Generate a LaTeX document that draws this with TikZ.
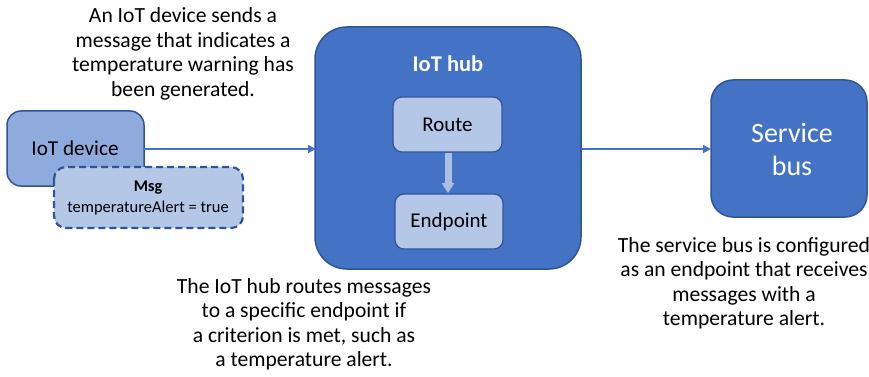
\documentclass[tikz,border=0pt]{standalone}
\usepackage{fontspec}
\setmainfont{Carlito}
\usetikzlibrary{arrows.meta}
\definecolor{hubblue}{HTML}{4472C4}
\definecolor{edgeblue}{HTML}{2F5597}
\definecolor{devblue}{HTML}{8FAADC}
\definecolor{lightblue}{HTML}{B4C7E7}
\definecolor{arrowlight}{HTML}{A9BFE3}
\tikzset{
  box/.style={draw=edgeblue, line width=1.5pt, rounded corners=#1},
  box/.default=12pt,
  conn/.style={draw=hubblue, line width=1.6pt, -{Triangle[length=8pt,width=8pt]}},
  note/.style={align=center, font=\fontsize{21.6}{24.5}\selectfont, text=black},
}
\begin{document}
\begin{tikzpicture}[x=1pt,y=-1pt]
\useasboundingbox (0,0) rectangle (869,377);
% IoT device
\draw[box=14pt, fill=devblue] (7,111) rectangle (144,186);
\node[font=\fontsize{21.2}{24}\selectfont] (devtxt) at (75,148) {IoT device};
% Msg
\draw[box=12pt, fill=lightblue, dash pattern=on 7pt off 4pt, line width=2.2pt] (54,167) rectangle (243,228);
\node[font=\fontsize{16.3}{18}\selectfont\bfseries] (msg) at (148,188) {Msg};
\node[font=\fontsize{16.5}{18}\selectfont] (msgtxt) at (148,208) {temperatureAlert = true};
% Hub
\draw[box=32pt, fill=hubblue] (315,27) rectangle (581,269);
\node[font=\fontsize{22.5}{24}\selectfont\bfseries, text=white] (hubtxt) at (448,64) {IoT hub};
% Route / Endpoint
\draw[box=9pt, fill=lightblue, line width=1.2pt] (393,97) rectangle (502,152);
\node[font=\fontsize{21}{24}\selectfont] (route) at (447.5,125) {Route};
\draw[box=9pt, fill=lightblue, line width=1.2pt] (395,194) rectangle (503,249);
\node[font=\fontsize{21}{24}\selectfont] (endp) at (449,222) {Endpoint};
% Service bus
\draw[box=22pt, fill=hubblue] (711,80) rectangle (867,217);
\node[font=\fontsize{28}{33}\selectfont, text=white, align=center] (sb) at (792,149) {Service\\bus};
% coordinates for connectors
\coordinate (devR) at (144,149);
\coordinate (hubL) at (316,149);
\coordinate (hubR) at (581,149);
\coordinate (sbL) at (711,149);
\coordinate (rB) at (448,153);
\coordinate (eT) at (448,193);
\draw[conn] (devR) -- (hubL);
\draw[conn] (hubR) -- (sbL);
% block arrow route -> endpoint
\draw[draw=arrowlight, line width=7pt, -{Triangle[length=10pt,width=12pt]}] (rB) -- (eT);
% notes
\node[note] (n1) at (183,54) {An IoT device sends a\\message that indicates a\\temperature warning has\\been generated.};
\node[note] (n2) at (304,324) {The IoT hub routes messages\\to a specific endpoint if\\a criterion is met, such as\\a temperature alert.};
\node[note] (n3) at (744,283) {The service bus is configured\\as an endpoint that receives\\messages with a\\temperature alert.};
\end{tikzpicture}
\end{document}
